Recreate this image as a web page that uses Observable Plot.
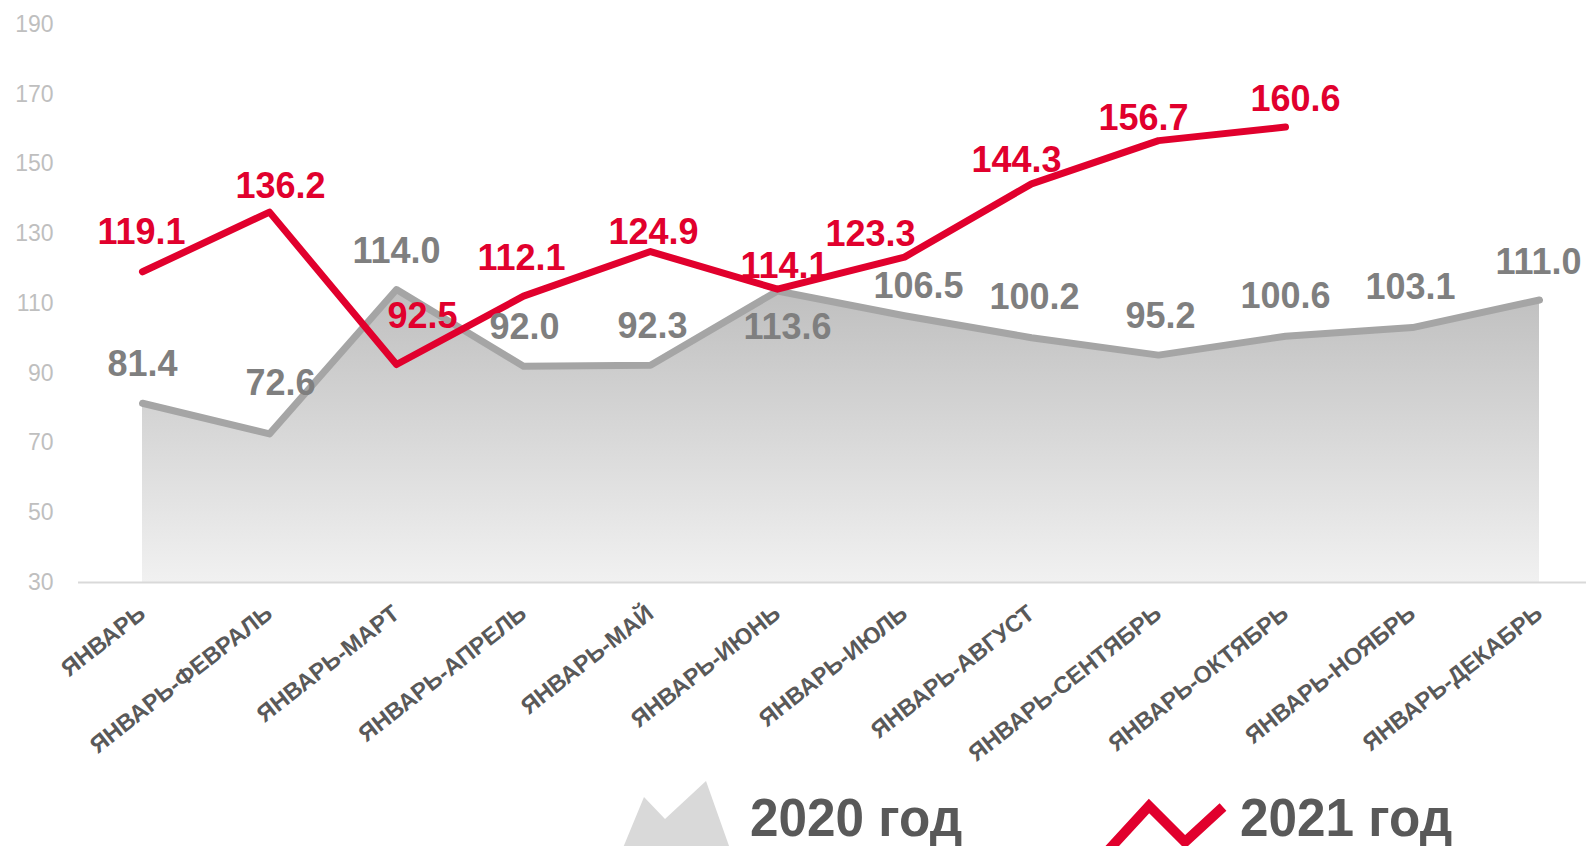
<!DOCTYPE html>
<html>
<head>
<meta charset="utf-8">
<script src="https://cdn.jsdelivr.net/npm/d3@7"></script>
<script src="https://cdn.jsdelivr.net/npm/@observablehq/plot@0.6"></script>
<style>
  html, body { margin: 0; padding: 0; background: #fff; overflow: hidden; }
  #wrap { width: 1586px; }
  #legend { display: block; }
</style>
</head>
<body>
<div id="wrap"></div>
<script>
// ---- data ----
const months = ["ЯНВАРЬ", "ЯНВАРЬ-ФЕВРАЛЬ", "ЯНВАРЬ-МАРТ", "ЯНВАРЬ-АПРЕЛЬ", "ЯНВАРЬ-МАЙ", "ЯНВАРЬ-ИЮНЬ",
  "ЯНВАРЬ-ИЮЛЬ", "ЯНВАРЬ-АВГУСТ", "ЯНВАРЬ-СЕНТЯБРЬ", "ЯНВАРЬ-ОКТЯБРЬ", "ЯНВАРЬ-НОЯБРЬ", "ЯНВАРЬ-ДЕКАБРЬ"];
const values2020 = [81.4, 72.6, 114.0, 92.0, 92.3, 113.6, 106.5, 100.2, 95.2, 100.6, 103.1, 111.0];
const values2021 = [119.1, 136.2, 92.5, 112.1, 124.9, 114.1, 123.3, 144.3, 156.7, 160.6];
const yTicks = [30, 50, 70, 90, 110, 130, 150, 170, 190];
const seriesNames = ["2020 год", "2021 год"];

// label nudges (pixels, relative to each point)
const off2020 = [[0,-39],[11,-50],[0,-38],[1,-39],[2,-39],[10,37],[14,-29],[3,-40],[2,-39],[0,-40],[-2,-40],[-1,-38]];
const off2021 = [[-1,-39],[11,-26],[26,-48],[-2,-38],[3,-19],[7,-23],[-34,-23],[-15,-23],[-15,-22],[10,-28]];

const data2020 = values2020.map((v, i) => ({m: months[i], v}));
const data2021 = values2021.map((v, i) => ({m: months[i], v}));

const GRAY_LINE = "#a5a5a5", GRAY_TEXT = "#7f7f7f", RED = "#e1002d";

const defs = () => {
  const s = d3.create("svg:defs");
  const g = s.append("linearGradient").attr("id", "g2020").attr("x1", 0).attr("y1", 0).attr("x2", 0).attr("y2", 1);
  g.append("stop").attr("offset", "0%").attr("stop-color", "#bfbfbf");
  g.append("stop").attr("offset", "100%").attr("stop-color", "#f1f1f1");
  return s.node();
};

const labels2020 = data2020.map((d, i) => Plot.text([d], {
  x: "m", y: "v", text: d => d.v.toFixed(1), dx: off2020[i][0], dy: off2020[i][1],
  fill: GRAY_TEXT, fontSize: 36, fontWeight: "bold"
}));
const labels2021 = data2021.map((d, i) => Plot.text([d], {
  x: "m", y: "v", text: d => d.v.toFixed(1), dx: off2021[i][0], dy: off2021[i][1],
  fill: RED, fontSize: 36, fontWeight: "bold"
}));

const chart = Plot.plot({
  width: 1586,
  height: 772,
  marginLeft: 78,
  marginRight: 0,
  marginTop: 24,
  marginBottom: 190,
  style: {fontFamily: "'Liberation Sans', Arial, sans-serif", background: "#fff"},
  x: {type: "point", domain: months, range: [142, 1539], padding: 0, label: null},
  y: {domain: [30, 190], label: null},
  marks: [
    defs,
    Plot.areaY(data2020, {x: "m", y1: () => 30, y2: "v", fill: "url(#g2020)"}),
    Plot.ruleY([30], {stroke: "#d9d9d9", strokeWidth: 2}),
    Plot.line(data2020, {x: "m", y: "v", stroke: GRAY_LINE, strokeWidth: 7, strokeLinejoin: "round", strokeLinecap: "round"}),
    Plot.line(data2021, {x: "m", y: "v", stroke: RED, strokeWidth: 7, strokeLinejoin: "round", strokeLinecap: "round"}),
    ...labels2020,
    ...labels2021,
    Plot.axisY({ticks: yTicks, tickSize: 0, tickPadding: 25, fontSize: 23, fill: "#bfbfbf", label: null}),
    Plot.axisX({tickRotate: -38, tickSize: 0, tickPadding: 28, fontSize: 23.5, fontWeight: "bold", fill: "#595959", label: null})
  ]
});
document.getElementById("wrap").appendChild(chart);

// ---- legend (below the chart SVG; coordinates offset by chart height) ----
const top0 = 12; // legend svg starts 12px lower than in the previous layout
const leg = d3.select("#wrap").append("svg").attr("id", "legend").attr("width", 1586).attr("height", 74);
const g = leg.append("g").attr("transform", `translate(0,${-top0})`);
g.append("polygon")
  .attr("points", "618,100 644,37 665,59 706,21 734,100")
  .attr("fill", "#d9d9d9");
g.append("text").attr("transform", "translate(750,76) scale(0.95,1)")
  .attr("font-family", "'Liberation Sans', Arial, sans-serif").attr("font-weight", "bold").attr("font-size", 54)
  .attr("fill", "#595959").text(seriesNames[0]);
g.append("polyline")
  .attr("points", "1104,95 1149,46 1185,82 1223,47")
  .attr("fill", "none").attr("stroke", RED).attr("stroke-width", 10).attr("stroke-linejoin", "miter");
g.append("text").attr("transform", "translate(1240,76) scale(0.95,1)")
  .attr("font-family", "'Liberation Sans', Arial, sans-serif").attr("font-weight", "bold").attr("font-size", 54)
  .attr("fill", "#595959").text(seriesNames[1]);
</script>
</body>
</html>
